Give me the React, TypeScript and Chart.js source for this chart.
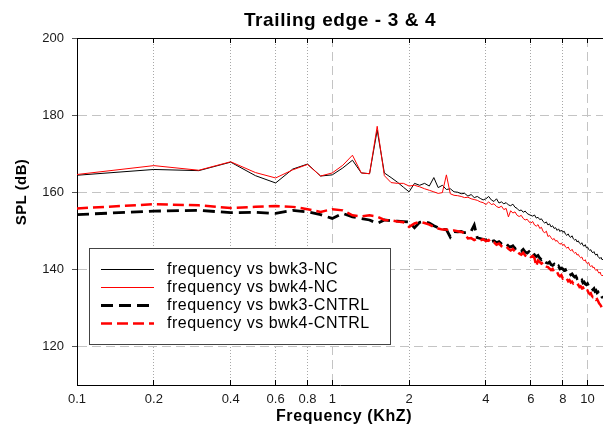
import React, { useEffect, useRef } from "react";
import { Chart, registerables } from "chart.js";

Chart.register(...registerables);

const FONT = '"Liberation Sans", Arial, Helvetica, sans-serif';

const TITLE = "Trailing edge - 3 & 4";
const X_TITLE = "Frequency (KhZ)";
const Y_TITLE = "SPL (dB)";

const X_MIN = 0.1;
const X_MAX = 11.5;
const Y_MIN = 110;
const Y_MAX = 200;
const X_TICKS = [0.1, 0.2, 0.4, 0.6, 0.8, 1, 2, 4, 6, 8, 10];
const X_MAJOR = [1, 10];
const Y_TICKS = [120, 140, 160, 180, 200];

const FREQ = [
  0.1, 0.2, 0.3, 0.4, 0.5, 0.6, 0.7, 0.8, 0.9, 1.0,
  1.1, 1.2, 1.3, 1.4, 1.5, 1.6, 1.7, 1.8, 1.9, 2.0,
  2.1, 2.2, 2.3, 2.4, 2.5, 2.6, 2.7, 2.8, 2.9, 3.0,
  3.1, 3.2, 3.3, 3.4, 3.5, 3.6, 3.7, 3.8, 3.9, 4.0,
  4.1, 4.2, 4.3, 4.4, 4.5, 4.6, 4.7, 4.8, 4.9, 5.0,
  5.1, 5.2, 5.3, 5.4, 5.5, 5.6, 5.7, 5.8, 5.9, 6.0,
  6.1, 6.2, 6.3, 6.4, 6.5, 6.6, 6.7, 6.8, 6.9, 7.0,
  7.1, 7.2, 7.3, 7.4, 7.5, 7.6, 7.7, 7.8, 7.9, 8.0,
  8.1, 8.2, 8.3, 8.4, 8.5, 8.6, 8.7, 8.8, 8.9, 9.0,
  9.1, 9.2, 9.3, 9.4, 9.5, 9.6, 9.7, 9.8, 9.9, 10.0,
  10.1, 10.2, 10.3, 10.4, 10.5, 10.6, 10.7, 10.8, 10.9, 11.0,
  11.1, 11.2, 11.3, 11.4, 11.5,
];

const BWK3_NC = [
  164.4, 165.9, 165.6, 167.8, 164.3, 162.4, 166.0, 167.3, 164.2, 164.5,
  166.3, 168.3, 165.0, 164.8, 176.1, 165.0, 163.8, 162.6, 161.3, 160.1,
  162.3, 161.8, 162.3, 161.6, 163.8, 161.2, 161.8, 160.7, 160.9, 160.1,
  160.0, 159.6, 159.7, 159.0, 159.4, 158.6, 158.9, 158.4, 158.0, 158.3,
  158.9, 158.0, 157.6, 158.3, 157.2, 157.5, 157.0, 157.3, 156.7, 156.5,
  156.9, 156.1, 155.8, 155.2, 155.4, 154.8, 155.1, 154.5, 154.2, 154.0,
  153.8, 154.1, 153.3, 153.5, 152.9, 153.1, 152.4, 152.0, 152.3, 151.5,
  151.8, 151.0, 151.3, 150.6, 150.8, 150.1, 150.5, 149.8, 150.2, 149.6,
  149.9, 149.1, 148.8, 149.2, 148.5, 148.3, 148.7, 147.9, 147.6, 147.8,
  147.1, 147.4, 146.8, 146.5, 146.9, 146.2, 146.0, 146.4, 145.6, 145.8,
  145.2, 144.9, 145.1, 144.5, 144.3, 144.6, 143.9, 143.7, 144.0, 143.3,
  143.0, 142.8, 143.1, 142.5, 142.6,
];

const BWK4_NC = [
  164.6, 166.9, 165.7, 167.9, 165.1, 163.7, 165.8, 167.2, 164.2, 165.0,
  167.0, 169.6, 165.0, 164.8, 177.1, 164.3, 162.5, 162.3, 162.3, 161.6,
  161.8, 161.4, 160.9, 160.5, 160.1, 159.7, 159.9, 164.5, 159.6, 159.2,
  159.1, 158.9, 158.6, 158.7, 158.3, 158.1, 157.9, 157.5, 157.3, 156.8,
  157.5, 156.8, 157.0, 156.3, 156.0, 156.4, 155.5, 155.8, 153.6, 155.2,
  154.6, 154.9, 154.0, 153.7, 154.0, 153.2, 152.8, 153.0, 152.3, 152.0,
  152.4, 151.5, 151.2, 151.6, 150.6, 150.9, 149.8, 149.5, 149.9, 148.5,
  148.8, 148.2, 147.7, 148.0, 147.3, 147.5, 146.9, 146.5, 146.8, 146.2,
  146.5, 145.8, 145.5, 145.8, 145.1, 144.8, 145.2, 144.5, 144.2, 144.4,
  143.7, 143.9, 143.3, 143.0, 143.2, 142.5, 142.2, 142.5, 141.7, 141.5,
  141.8, 141.0, 140.7, 141.0, 140.4, 140.6, 140.0, 139.7, 140.0, 139.4,
  139.0, 139.3, 138.6, 138.3, 138.5,
];

const BWK3_CNTRL = [
  154.2, 155.1, 155.3, 154.7, 154.8, 154.5, 155.3, 154.9, 154.2, 153.2,
  154.5, 153.6, 153.2, 152.8, 151.9, 152.8, 152.6, 152.5, 152.4, 152.3,
  150.8, 152.2, 152.4, 152.0, 151.3, 150.8, 150.4, 150.3, 148.4, 149.8,
  149.7, 149.8, 149.5, 149.5, 149.9, 151.5, 148.2, 148.0, 147.8, 147.6,
  147.9, 147.2, 147.4, 146.9, 147.2, 146.6, 146.3, 146.7, 146.0, 145.8,
  146.1, 145.4, 145.6, 145.0, 144.7, 145.2, 144.5, 144.2, 144.6, 144.1,
  144.5, 143.7, 143.3, 143.6, 142.9, 142.5, 142.8, 142.0, 141.7, 141.6,
  141.9, 141.2, 141.0, 141.3, 140.7, 140.4, 140.8, 140.1, 140.3, 140.1,
  139.7, 139.9, 139.2, 139.0, 139.3, 138.6, 138.8, 138.3, 138.0, 138.2,
  137.6, 137.8, 137.2, 136.9, 137.2, 136.5, 136.7, 136.2, 136.0, 136.3,
  135.7, 135.4, 135.6, 135.0, 134.7, 135.0, 134.3, 134.5, 133.9, 134.1,
  133.5, 133.2, 133.4, 132.8, 132.7,
];

const BWK4_CNTRL = [
  155.8, 156.9, 156.6, 155.9, 156.2, 156.4, 156.2, 155.6, 154.9, 155.6,
  155.3, 154.0, 153.7, 154.0, 153.7, 152.8, 152.7, 152.4, 152.2, 151.0,
  151.9, 152.3, 152.0, 151.6, 151.0, 150.6, 150.3, 150.3, 150.0, 150.1,
  149.9, 149.7, 149.4, 148.0, 148.1, 147.6, 147.9, 147.5, 147.8, 147.3,
  147.6, 146.8, 147.0, 146.4, 146.7, 146.0, 145.7, 146.0, 145.3, 144.9,
  145.3, 144.6, 144.8, 144.1, 143.8, 144.3, 143.6, 143.3, 143.7, 143.2,
  143.5, 142.9, 140.8, 142.3, 141.9, 141.5, 141.8, 141.0, 140.7, 140.6,
  140.2, 139.8, 140.1, 139.3, 139.0, 139.3, 138.5, 138.2, 138.5, 137.6,
  137.8, 137.3, 137.5, 136.9, 137.2, 136.6, 136.8, 136.3, 136.5, 136.2,
  135.8, 136.0, 135.4, 135.6, 135.1, 135.3, 134.7, 134.9, 134.3, 134.5,
  133.9, 133.6, 133.8, 133.1, 132.8, 133.0, 132.4, 132.1, 132.3, 131.8,
  131.2, 130.9, 130.5, 129.8, 129.5,
];

const LABELS = [
  "frequency vs bwk3-NC",
  "frequency vs bwk4-NC",
  "frequency vs bwk3-CNTRL",
  "frequency vs bwk4-CNTRL",
];

const pts = (ys: number[]) =>
  FREQ.map((f, i) => ({ x: f, y: ys[i] })).filter((p) => p.y !== undefined);

const isMajorX = (v: number) => X_MAJOR.some((m) => Math.abs(m - v) < 1e-9);

const overlayPlugin = {
  id: "overlay",
  beforeDatasetsDraw(chart: any) {
    const { ctx, chartArea: a, scales } = chart;
    const xs = scales.x;
    ctx.save();
    ctx.strokeStyle = "#000";
    ctx.lineWidth = 1;
    ctx.setLineDash([]);
    ctx.beginPath();
    const ty = Math.round(a.top) + 0.5;
    ctx.moveTo(a.left, ty);
    ctx.lineTo(a.right, ty);
    for (const v of X_TICKS) {
      if (Math.abs(v - X_MIN) < 1e-9) continue;
      const px = Math.round(xs.getPixelForValue(v) - 0.5) + 0.5;
      ctx.moveTo(px, a.top);
      ctx.lineTo(px, a.top + 5);
      ctx.moveTo(px, a.bottom);
      ctx.lineTo(px, a.bottom - 5);
    }
    ctx.stroke();
    ctx.restore();
  },
  afterDatasetsDraw(chart: any) {
    const { ctx } = chart;
    const bx = 89.5, by = 248.5, bw = 301, bh = 96;
    ctx.save();
    ctx.fillStyle = "#ffffff";
    ctx.fillRect(bx, by, bw, bh);
    ctx.strokeStyle = "#444";
    ctx.lineWidth = 1;
    ctx.setLineDash([]);
    ctx.strokeRect(bx, by, bw, bh);
    ctx.font = `16px ${FONT}`;
    (ctx as any).letterSpacing = "0.5px";
    ctx.textBaseline = "middle";
    ctx.textAlign = "left";
    chart.data.datasets.forEach((ds: any, i: number) => {
      const y = 269.5 + i * 18;
      ctx.beginPath();
      ctx.strokeStyle = ds.borderColor;
      ctx.lineWidth = ds.borderWidth;
      ctx.setLineDash(ds.borderDash || []);
      ctx.moveTo(101, y);
      ctx.lineTo(154, y);
      ctx.stroke();
      ctx.fillStyle = "#000";
      ctx.fillText(ds.label, 167, y);
    });
    ctx.restore();
  },
  afterDraw(chart: any) {
    const { ctx } = chart;
    ctx.save();
    ctx.fillStyle = "#000";
    ctx.textAlign = "center";
    ctx.textBaseline = "alphabetic";
    ctx.font = `bold 19px ${FONT}`;
    (ctx as any).letterSpacing = "0.6px";
    ctx.fillText(TITLE, 340, 26);
    ctx.font = `bold 16px ${FONT}`;
    (ctx as any).letterSpacing = "0.6px";
    ctx.fillText(X_TITLE, 344, 421);
    ctx.translate(26, 192);
    ctx.rotate(-Math.PI / 2);
    ctx.font = `bold 15px ${FONT}`;
    (ctx as any).letterSpacing = "0.4px";
    ctx.fillText(Y_TITLE, 0, 0);
    ctx.restore();
  },
};

export default function App() {
  const ref = useRef<HTMLCanvasElement | null>(null);

  useEffect(() => {
    if (!ref.current) return;
    const chart = new Chart(ref.current, {
      type: "line",
      data: {
        datasets: [
          {
            label: LABELS[0],
            data: pts(BWK3_NC),
            borderColor: "#000000",
            borderWidth: 1,
            borderDash: [],
            pointRadius: 0,
            tension: 0,
            order: 4,
          },
          {
            label: LABELS[1],
            data: pts(BWK4_NC),
            borderColor: "#ff0000",
            borderWidth: 1,
            borderDash: [],
            pointRadius: 0,
            tension: 0,
            order: 3,
          },
          {
            label: LABELS[2],
            data: pts(BWK3_CNTRL),
            borderColor: "#000000",
            borderWidth: 2.8,
            borderDash: [12, 6],
            pointRadius: 0,
            tension: 0,
            order: 2,
          },
          {
            label: LABELS[3],
            data: pts(BWK4_CNTRL),
            borderColor: "#ff0000",
            borderWidth: 2.5,
            borderDash: [11, 5],
            pointRadius: 0,
            tension: 0,
            order: 1,
          },
        ],
      },
      options: {
        animation: false,
        responsive: false,
        devicePixelRatio: 1,
        parsing: false as any,
        layout: { padding: { top: 38, right: 1, left: 0, bottom: 0 } },
        plugins: {
          legend: { display: false },
          title: { display: false },
          tooltip: { enabled: false },
        },
        scales: {
          x: {
            type: "logarithmic",
            min: X_MIN,
            max: X_MAX,
            afterBuildTicks: (s: any) => {
              s.ticks = X_TICKS.map((v) => ({ value: v }));
            },
            afterFit: (s: any) => {
              s.height = 42;
              s.paddingLeft = 0;
              s.paddingRight = 0;
            },
            ticks: {
              autoSkip: false,
              maxRotation: 0,
              minRotation: 0,
              padding: 7,
              color: "#1a1a1a",
              font: { family: FONT, size: 13 },
              callback: (v: any) => String(v),
            },
            grid: {
              drawTicks: false,
              lineWidth: 1,
              color: (c: any) => {
                const v = c.tick ? c.tick.value : null;
                if (v == null || Math.abs(v - X_MIN) < 1e-9) return "rgba(0,0,0,0)";
                return isMajorX(v) ? "#c4c4c4" : "#a8a8a8";
              },
            },
            border: {
              display: true,
              color: "#000",
              width: 1,
              dash: (c: any) =>
                c.tick ? (isMajorX(c.tick.value) ? [9, 5] : [1, 2]) : [],
            },
          },
          y: {
            type: "linear",
            min: Y_MIN,
            max: Y_MAX,
            afterBuildTicks: (s: any) => {
              s.ticks = Y_TICKS.map((v) => ({ value: v }));
            },
            afterFit: (s: any) => {
              s.width = 77;
              s.paddingTop = 0;
              s.paddingBottom = 0;
            },
            ticks: {
              padding: 8,
              color: "#1a1a1a",
              font: { family: FONT, size: 13 },
              callback: (v: any) => String(v),
            },
            grid: {
              drawTicks: true,
              tickLength: 5,
              tickColor: "#555",
              lineWidth: 1,
              color: (c: any) => {
                const v = c.tick ? c.tick.value : null;
                if (v == null || v >= Y_MAX) return "rgba(0,0,0,0)";
                return "#c4c4c4";
              },
            },
            border: {
              display: true,
              color: "#000",
              width: 1,
              dash: (c: any) => (c.tick ? [9, 5] : []),
            },
          },
        },
      },
      plugins: [overlayPlugin],
    } as any);
    return () => chart.destroy();
  }, []);

  return (
    <div
      style={{
        position: "absolute",
        left: 0,
        top: 0,
        width: 604,
        height: 427,
        background: "#fff",
      }}
    >
      <canvas ref={ref} width={604} height={427} style={{ display: "block" }} />
    </div>
  );
}
